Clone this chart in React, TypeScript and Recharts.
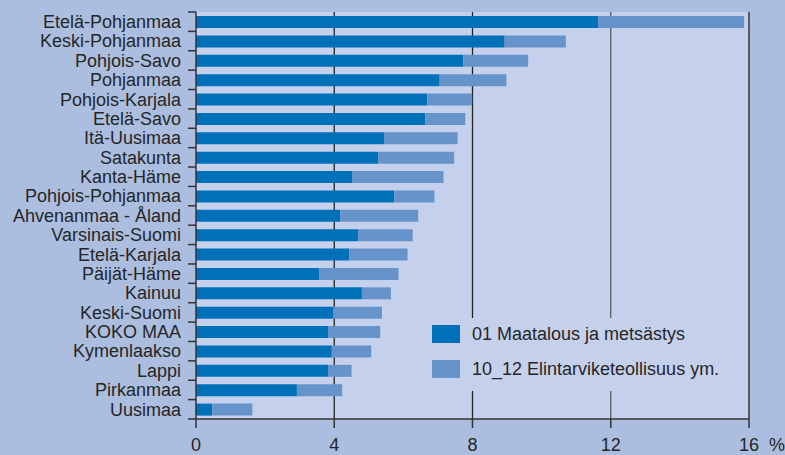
import { BarChart, Bar, XAxis, YAxis, CartesianGrid, Legend } from 'recharts';

// Regions, top to bottom as in the picture
const regions = [
  'Etelä-Pohjanmaa',
  'Keski-Pohjanmaa',
  'Pohjois-Savo',
  'Pohjanmaa',
  'Pohjois-Karjala',
  'Etelä-Savo',
  'Itä-Uusimaa',
  'Satakunta',
  'Kanta-Häme',
  'Pohjois-Pohjanmaa',
  'Ahvenanmaa - Åland',
  'Varsinais-Suomi',
  'Etelä-Karjala',
  'Päijät-Häme',
  'Kainuu',
  'Keski-Suomi',
  'KOKO MAA',
  'Kymenlaakso',
  'Lappi',
  'Pirkanmaa',
  'Uusimaa',
];

// 01 Maatalous ja metsästys (%)
const agriculture = [
  11.63, 8.93, 7.73, 7.05, 6.69, 6.63, 5.44, 5.27, 4.53, 5.74, 4.17,
  4.7, 4.43, 3.56, 4.8, 3.97, 3.82, 3.93, 3.82, 2.92, 0.47,
];

// 10_12 Elintarviketeollisuus ym. (%)
const foodIndustry = [
  4.23, 1.77, 1.88, 1.93, 1.3, 1.16, 2.13, 2.2, 2.63, 1.16, 2.26,
  1.57, 1.69, 2.3, 0.84, 1.41, 1.51, 1.14, 0.68, 1.31, 1.16,
];

const xTicks = [0, 4, 8, 12, 16];

const data = regions.map((name, i) => ({
  name,
  agriculture: agriculture[i],
  food: foodIndustry[i],
}));

const WIDTH = 785;
const HEIGHT = 455;
const MARGIN = { top: 12, right: 36, bottom: 0, left: 0 };
const X_AXIS_H = 36;
const Y_AXIS_W = 196;
const PLOT_H = HEIGHT - MARGIN.top - MARGIN.bottom - X_AXIS_H;
const BAND = PLOT_H / regions.length;

const OUTER_BG = '#abbee0';
const PLOT_BG = '#c5d1ec';
const DARK = '#0070b8';
const LIGHT = '#6793cb';
const TEXT = '#262626';
const AXIS = '#333';
const FONT = '"Liberation Sans", Arial, sans-serif';

const Y_TICK = 8;
const Y_GAP = 7;

const YTick = (props: any) => {
  const { x, y, payload, index } = props;
  const lx1 = x + Y_GAP;
  const lx2 = x + Y_GAP + Y_TICK;
  return (
    <g>
      <line x1={lx1} x2={lx2} y1={y - BAND / 2} y2={y - BAND / 2} stroke={AXIS} strokeWidth={1.5} />
      {index === regions.length - 1 && (
        <line x1={lx1} x2={lx2} y1={y + BAND / 2} y2={y + BAND / 2} stroke={AXIS} strokeWidth={1.5} />
      )}
      <text x={x} y={y} dy="0.35em" textAnchor="end" fill={TEXT} fontSize={18} fontFamily={FONT}>
        {payload.value}
      </text>
    </g>
  );
};

const XTick = (props: any) => {
  const { x, y, payload } = props;
  return (
    <g>
      <text x={x} y={y} dy="0.71em" textAnchor="middle" fill={TEXT} fontSize={18} fontFamily={FONT}>
        {payload.value}
      </text>
      {payload.value === 16 && (
        <text x={x + 28} y={y} dy="0.71em" textAnchor="middle" fill={TEXT} fontSize={18} fontFamily={FONT}>
          %
        </text>
      )}
    </g>
  );
};

// gridline colours differ slightly: 4 and 8 near black, 12 and the 16 border grey
const gridLine = (props: any) => {
  const { x1, x2, y1, y2, index } = props;
  if (index === 0) return <g key={`v-${index}`} />;
  const stroke = index <= 2 ? '#222' : '#5a5a5a';
  const width = index === 4 ? 2 : 1.3;
  return <line key={`v-${index}`} x1={x1} x2={x2} y1={y1} y2={y2} stroke={stroke} strokeWidth={width} />;
};

const LegendBox = (props: any) => {
  const { payload } = props;
  return (
    <div style={{ background: PLOT_BG, width: 325, height: 73, boxSizing: 'border-box', padding: '7px 0 0 12px' }}>
      {payload.map((entry: any) => (
        <div key={entry.value} style={{ display: 'flex', alignItems: 'center', height: 18, marginBottom: 17 }}>
          <span style={{ width: 28, height: 18, background: entry.color, marginRight: 12, flex: 'none' }} />
          <span style={{ fontFamily: FONT, fontSize: 18, color: TEXT, whiteSpace: 'nowrap' }}>{entry.value}</span>
        </div>
      ))}
    </div>
  );
};

export default function App() {
  return (
    <div style={{ position: 'absolute', left: 0, top: 0, width: WIDTH, height: HEIGHT, background: OUTER_BG }}>
      <BarChart width={WIDTH} height={HEIGHT} data={data} layout="vertical" margin={MARGIN} barSize={12}>
        <CartesianGrid fill={PLOT_BG} horizontal={false} vertical={gridLine} stroke="none" />
        <XAxis
          type="number"
          domain={[0, 16]}
          ticks={xTicks}
          height={X_AXIS_H}
          tickSize={9}
          tickMargin={10}
          axisLine={{ stroke: AXIS, strokeWidth: 1.5 }}
          tickLine={{ stroke: AXIS, strokeWidth: 1.5 }}
          tick={<XTick />}
        />
        <YAxis
          type="category"
          dataKey="name"
          width={Y_AXIS_W}
          tickSize={Y_TICK}
          tickMargin={Y_GAP}
          tickLine={false}
          axisLine={{ stroke: AXIS, strokeWidth: 1.5 }}
          tick={<YTick />}
          interval={0}
        />
        <Legend
          layout="vertical"
          align="center"
          verticalAlign="middle"
          wrapperStyle={{ left: 420, top: 318, width: 325 }}
          content={<LegendBox />}
        />
        <Bar dataKey="agriculture" name="01 Maatalous ja metsästys" stackId="a" fill={DARK} isAnimationActive={false} />
        <Bar dataKey="food" name="10_12 Elintarviketeollisuus ym." stackId="a" fill={LIGHT} isAnimationActive={false} />
      </BarChart>
    </div>
  );
}
